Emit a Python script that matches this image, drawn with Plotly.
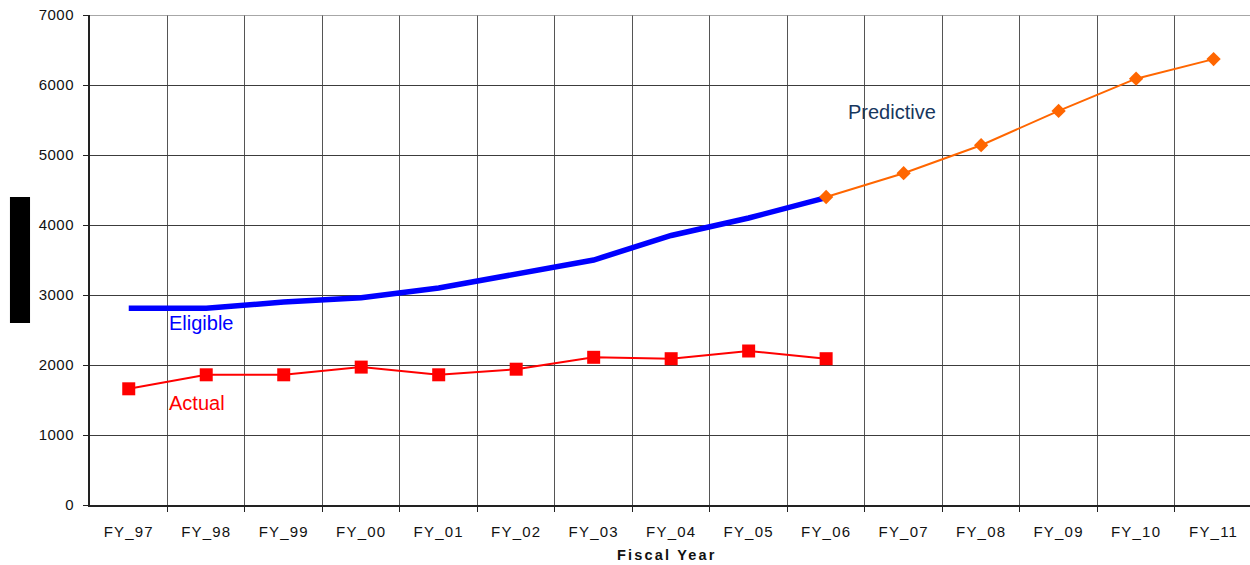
import plotly.graph_objects as go

# Fiscal years on the category axis
years = ["FY_97", "FY_98", "FY_99", "FY_00", "FY_01", "FY_02", "FY_03", "FY_04",
         "FY_05", "FY_06", "FY_07", "FY_08", "FY_09", "FY_10", "FY_11"]

# Eligible population (FY_97 - FY_06)
eligible = [2810, 2810, 2900, 2960, 3100, 3300, 3500, 3850, 4100, 4390]
# Actual participation (FY_97 - FY_06)
actual = [1660, 1860, 1860, 1970, 1860, 1940, 2110, 2090, 2200, 2090]
# Predicted eligible population (FY_06 - FY_11)
predictive = [4400, 4740, 5140, 5630, 6090, 6370]

y_ticks = [0, 1000, 2000, 3000, 4000, 5000, 6000, 7000]

idx = list(range(len(years)))
pred_start = len(eligible) - 1

font_family = "Liberation Sans, Arial, sans-serif"
grid_color = "#3c3c3c"

fig = go.Figure()

fig.add_trace(go.Scatter(
    x=idx[:len(eligible)], y=eligible, mode="lines",
    line=dict(color="#0000ff", width=5.5), name="Eligible",
))
fig.add_trace(go.Scatter(
    x=idx[:len(actual)], y=actual, mode="lines+markers",
    line=dict(color="#ff0000", width=2),
    marker=dict(symbol="square", size=13, color="#ff0000"),
    name="Actual",
))
fig.add_trace(go.Scatter(
    x=idx[pred_start:pred_start + len(predictive)], y=predictive, mode="lines+markers",
    line=dict(color="#ff6600", width=2),
    marker=dict(symbol="diamond", size=11, color="#ff6600"),
    name="Predictive",
))

# Series labels placed inside the plot
label_font = dict(family=font_family, size=20)
fig.add_annotation(x=0.5, y=2600, text="Eligible", showarrow=False,
                   xanchor="left", yanchor="middle",
                   font=dict(label_font, color="#0000ff"))
fig.add_annotation(x=0.5, y=1460, text="Actual", showarrow=False,
                   xanchor="left", yanchor="middle",
                   font=dict(label_font, color="#ff0000"))
fig.add_annotation(x=9.25, y=5610, text="Predictive", showarrow=False,
                   xanchor="left", yanchor="middle",
                   font=dict(label_font, color="#17375e"))

# Axis title
fig.add_annotation(x=0.497, y=-0.102, xref="paper", yref="paper",
                   text="<b>Fiscal Year</b>", showarrow=False,
                   xanchor="center", yanchor="middle",
                   font=dict(family=font_family, size=14.5, color="#111111"))

# Blocked-out vertical axis title
fig.add_shape(type="rect", xref="paper", yref="y",
              x0=-0.069, x1=-0.0517, y0=2600, y1=4400,
              fillcolor="#000000", line=dict(width=0))

# Lighter frame line along the top of the plot
fig.add_shape(type="line", xref="paper", yref="y", x0=0, x1=1, y0=7000, y1=7000,
              line=dict(color="#8a8a8a", width=1.5))

fig.update_layout(
    width=1250, height=565,
    margin=dict(l=90, r=0, t=15, b=60),
    paper_bgcolor="white", plot_bgcolor="white",
    showlegend=False,
    font=dict(family=font_family, color="#111111"),
)

fig.update_xaxes(
    range=[-0.5, 14.47],
    tickmode="array", tickvals=idx, ticktext=years,
    ticks="", showgrid=False, zeroline=False,
    tickfont=dict(size=15, color="#111111"),
    ticklabelstandoff=12,
    showline=True, linecolor="#222222", linewidth=2,
    minor=dict(tickmode="array", tickvals=[i + 0.5 for i in idx[:-1]],
               ticks="outside", ticklen=5, tickcolor="#222222", tickwidth=1,
               showgrid=True, gridcolor="#555555", gridwidth=1),
)

fig.update_yaxes(
    range=[0, 7000],
    tickmode="array", tickvals=y_ticks,
    ticks="outside", ticklen=5, tickcolor="#222222",
    tickfont=dict(size=15, color="#111111"),
    ticklabelstandoff=6,
    showgrid=True, gridcolor=grid_color, gridwidth=1,
    zeroline=False,
    showline=True, linecolor="#222222", linewidth=2,
)

spacing_js = """
var gd = document.getElementById('{plot_id}');
function applySpacing() {
  gd.querySelectorAll('.xtick text').forEach(function (t) { t.style.letterSpacing = '1.2px'; });
  gd.querySelectorAll('.ytick text').forEach(function (t) { t.style.letterSpacing = '0.5px'; });
  gd.querySelectorAll('.annotation-text').forEach(function (t) {
    if (t.textContent === 'Fiscal Year') { t.style.letterSpacing = '2.2px'; }
  });
}
applySpacing();
gd.on('plotly_afterplot', applySpacing);
"""

fig.write_html("out.html", post_script=spacing_js)
